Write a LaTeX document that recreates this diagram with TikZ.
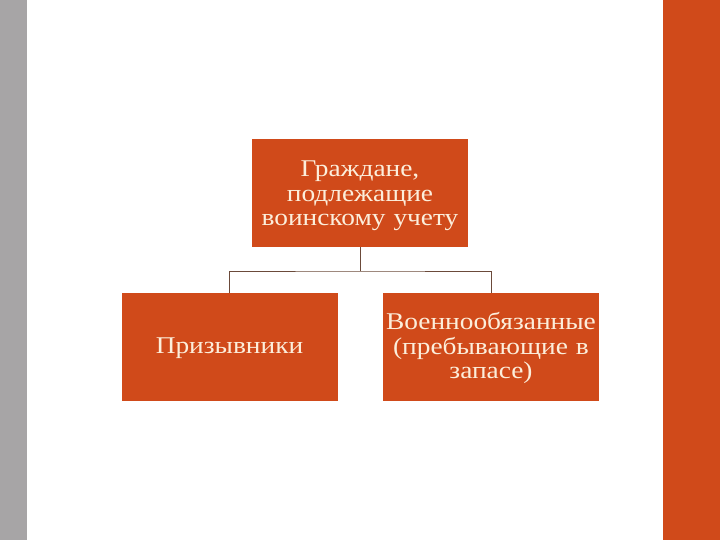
\documentclass[tikz,border=0pt]{standalone}
\usepackage{fontspec}
\setmainfont[FakeStretch=1.14]{Liberation Serif}
\definecolor{rust}{HTML}{D04A1A}
\definecolor{cream}{HTML}{FCEEDB}
\definecolor{barGrey}{HTML}{A7A5A6}
\definecolor{lineC}{HTML}{6B4A3A}
\begin{document}
\begin{tikzpicture}[x=1pt,y=-1pt,
  box/.style={fill=rust, minimum width=216pt, minimum height=108pt, inner sep=0pt},
  txt/.style={text=cream, inner sep=1pt, align=center,
    font=\fontsize{24}{24.5}\selectfont, text width=214pt},
  conn/.style={draw=lineC, line width=0.6pt}]
\useasboundingbox (0,0) rectangle (720,540);
\fill[white] (0,0) rectangle (720,540);
\fill[barGrey] (0,0) rectangle (27,540);
\fill[rust] (663,0) rectangle (720,540);
\node[box] (top) at (360,193) {};
\node[box] (left) at (229.5,347) {};
\node[box] (right) at (491,347) {};
\node[txt] (topT) at ([yshift=-3pt]top.center) {Граждане,\\подлежащие\\воинскому учету};
\node[txt] (leftT) at ([yshift=-1pt]left.center) {Призывники};
\node[txt] (rightT) at ([yshift=-1pt]right.center) {Военнообязанные\\(пребывающие в\\запасе)};
\coordinate (mid) at (360,271);
\draw[conn] (top.south) -- (mid);
\draw[conn] (left.north) |- (mid) -| (right.north);
\end{tikzpicture}
\end{document}
